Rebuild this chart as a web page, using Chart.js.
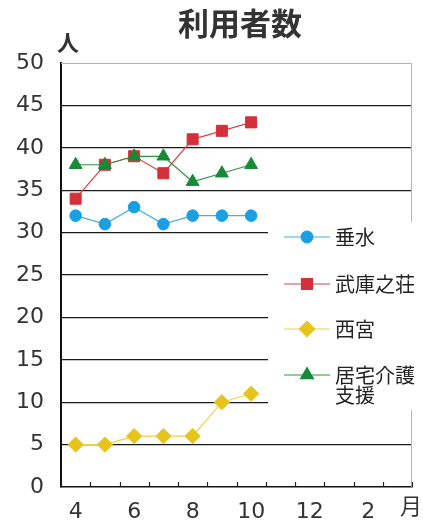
<!DOCTYPE html>
<html>
<head>
<meta charset="utf-8">
<script src="https://cdn.jsdelivr.net/npm/chart.js@4/dist/chart.umd.min.js"></script>
<style>
  html, body { margin: 0; padding: 0; background: #fff; }
  #wrap { width: 423px; height: 521px; }
</style>
</head>
<body>
<div id="wrap"><canvas id="riyousha" width="423" height="521"></canvas></div>
<script>
// months on the category axis (April .. March)
const months = ['4', '5', '6', '7', '8', '9', '10', '11', '12', '1', '2', '3'];
const yTicks = [0, 5, 10, 15, 20, 25, 30, 35, 40, 45, 50];

const tarumi = [32, 31, 33, 31, 32, 32, 32];
const mukonoso = [34, 38, 39, 37, 41, 42, 43];
const nishinomiya = [5, 5, 6, 6, 6, 10, 11];
const kyotaku = [38, 38, 39, 39, 36, 37, 38];

const seriesNames = ['垂水', '武庫之荘', '西宮', ['居宅介護', '支援']];

const JP = "'Noto Sans CJK JP', 'Noto Sans', sans-serif";
const NUM = "'DejaVu Sans', 'Liberation Sans', sans-serif";

function drawMarker(ctx, style, r, x, y) {
  if (Chart.helpers && Chart.helpers.drawPoint) {
    Chart.helpers.drawPoint(ctx, { pointStyle: style, radius: r, borderWidth: 1, rotation: 0 }, x, y);
    return;
  }
  ctx.beginPath();
  ctx.arc(x, y, r, 0, Math.PI * 2);
  ctx.fill();
}

const decor = {
  id: 'decor',
  beforeDatasetsDraw(chart) {
    const { ctx, chartArea: a } = chart;
    const xs = chart.scales.x;
    ctx.save();
    // thin grey frame on top and right
    ctx.strokeStyle = '#b4b4b4';
    ctx.lineWidth = 1;
    ctx.beginPath();
    ctx.moveTo(a.left, a.top + 0.5);
    ctx.lineTo(a.right - 0.5, a.top + 0.5);
    ctx.lineTo(a.right - 0.5, a.bottom);
    ctx.stroke();
    // small tick marks pointing into the plot
    ctx.strokeStyle = '#222';
    ctx.lineWidth = 1.2;
    const step = (xs.right - xs.left) / months.length;
    for (let i = 0; i <= months.length; i++) {
      const x = Math.round(xs.left + i * step) + 0.5;
      ctx.beginPath();
      ctx.moveTo(x, a.bottom);
      ctx.lineTo(x, a.bottom - 5);
      ctx.stroke();
    }
    ctx.restore();
  },
  afterDatasetsDraw(chart) {
    const { ctx } = chart;
    ctx.save();
    // legend panel sits over the grid lines
    ctx.fillStyle = '#fff';
    ctx.fillRect(268, 222, 155, 188);
    const ys = [237, 284, 329, 375];
    chart.data.datasets.forEach((ds, i) => {
      const y = ys[i];
      ctx.strokeStyle = ds.borderColor;
      ctx.lineWidth = 1.2;
      ctx.beginPath();
      ctx.moveTo(284, y);
      ctx.lineTo(330, y);
      ctx.stroke();
      ctx.fillStyle = ds.pointBackgroundColor;
      ctx.strokeStyle = ds.pointBackgroundColor;
      drawMarker(ctx, ds.pointStyle, ds.pointRadius, 307, y);
      ctx.fillStyle = '#222';
      ctx.font = '20px ' + JP;
      ctx.textAlign = 'left';
      ctx.textBaseline = 'middle';
      const lines = Array.isArray(seriesNames[i]) ? seriesNames[i] : [seriesNames[i]];
      lines.forEach((t, k) => ctx.fillText(t, 335, y + k * 20));
    });
    ctx.restore();
  },
  afterDraw(chart) {
    const { ctx } = chart;
    ctx.save();
    ctx.fillStyle = '#333';
    ctx.textAlign = 'center';
    ctx.textBaseline = 'middle';
    ctx.font = 'bold 31px ' + JP;
    ctx.fillText('利用者数', 240, 23);
    ctx.font = 'bold 22px ' + JP;
    ctx.fillText('人', 68, 43);
    ctx.font = '22px ' + JP;
    ctx.fillText('月', 411, 506);
    ctx.restore();
  }
};

const styles = [
  { line: '#45aee6', point: '#1a9fe2', style: 'circle', r: 5.8 },
  { line: '#d64545', point: '#d3303a', style: 'rect', r: 7.8 },
  { line: '#f0d044', point: '#e6c41c', style: 'rectRot', r: 7.6 },
  { line: '#2f9446', point: '#178a38', style: 'triangle', r: 7.4 }
];
const seriesData = [tarumi, mukonoso, nishinomiya, kyotaku];

const ctx = document.getElementById('riyousha').getContext('2d');
new Chart(ctx, {
  type: 'line',
  data: {
    labels: months,
    datasets: seriesData.map((vals, i) => ({
      label: Array.isArray(seriesNames[i]) ? seriesNames[i].join('') : seriesNames[i],
      data: vals,
      borderColor: styles[i].line,
      borderWidth: 1.2,
      backgroundColor: styles[i].point,
      pointBackgroundColor: styles[i].point,
      pointBorderColor: styles[i].point,
      pointBorderWidth: 1,
      pointStyle: styles[i].style,
      pointRadius: styles[i].r,
      pointHoverRadius: styles[i].r,
      tension: 0,
      order: 4 - i
    }))
  },
  options: {
    responsive: false,
    animation: false,
    layout: { padding: { left: 0, right: 11, top: 63, bottom: 0 } },
    plugins: {
      legend: { display: false },
      tooltip: { enabled: false },
      title: { display: false }
    },
    scales: {
      x: {
        type: 'category',
        offset: true,
        afterFit: s => { s.height = 34; },
        grid: { display: false, offset: true },
        border: { display: true, color: '#111', width: 1.5 },
        ticks: {
          autoSkip: false,
          maxRotation: 0,
          padding: 4,
          color: '#333',
          font: { family: NUM, size: 22 },
          callback: (v, idx) => (idx % 2 === 0 ? months[idx] : '')
        }
      },
      y: {
        min: yTicks[0],
        max: yTicks[yTicks.length - 1],
        afterFit: s => { s.width = 61; },
        afterBuildTicks: s => { s.ticks = yTicks.map(v => ({ value: v })); },
        grid: {
          drawTicks: false,
          lineWidth: 1.3,
          color: c => (c.tick && (c.tick.value === 50 || c.tick.value === 0) ? 'rgba(0,0,0,0)' : '#1a1a1a')
        },
        border: { display: true, color: '#111', width: 2 },
        ticks: {
          padding: 17,
          color: '#333',
          font: { family: NUM, size: 22 }
        }
      }
    }
  },
  plugins: [decor]
});
</script>
</body>
</html>
